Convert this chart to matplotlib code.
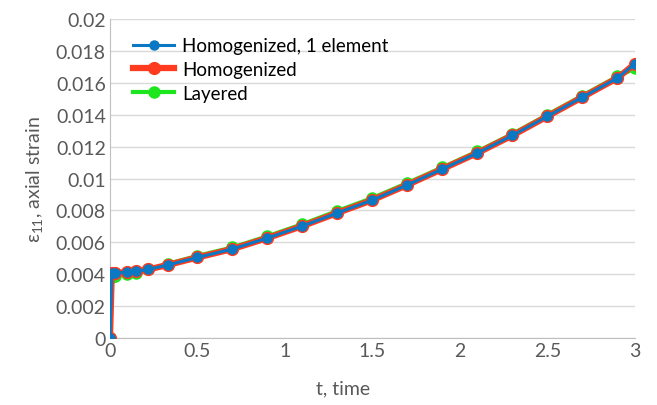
import matplotlib
matplotlib.use('Agg')
import matplotlib.pyplot as plt
from matplotlib.ticker import MultipleLocator, FuncFormatter

plt.rcParams['font.family'] = ['Lato', 'DejaVu Sans']
plt.rcParams['mathtext.fontset'] = 'custom'
plt.rcParams['mathtext.rm'] = 'Lato'
plt.rcParams['mathtext.it'] = 'Lato'

# data
t = [0, 0.01, 0.03, 0.1, 0.15, 0.22, 0.33, 0.5, 0.7, 0.9, 1.1, 1.3, 1.5,
     1.7, 1.9, 2.1, 2.3, 2.5, 2.7, 2.9, 3.0]
hom_1el = [0, 0.00405, 0.00408, 0.00412, 0.00418, 0.0043, 0.00458, 0.00505,
           0.00558, 0.00627, 0.00702, 0.00784, 0.00865, 0.0096, 0.0106,
           0.0116, 0.0127, 0.0139, 0.0151, 0.0163, 0.0172]
hom = [0, 0.00405, 0.00408, 0.00412, 0.00418, 0.0043, 0.00458, 0.00505,
       0.00558, 0.00627, 0.00702, 0.00784, 0.00865, 0.0096, 0.0106,
       0.0116, 0.0127, 0.0139, 0.0151, 0.0163, 0.0172]
layered = [0, 0.0038, 0.0039, 0.004, 0.0041, 0.0043, 0.00465, 0.00515,
           0.00568, 0.00638, 0.00714, 0.00797, 0.00878, 0.00972, 0.0107,
           0.0117, 0.0128, 0.0140, 0.0152, 0.0164, 0.0169]

fig = plt.figure(figsize=(6.57, 4.06), dpi=100)
ax = fig.add_axes([0.1674, 0.165, 0.7991, 0.7857])

ax.plot(t, layered, color='#1EE61E', lw=3, marker='o', ms=8, label='Layered', zorder=3)
ax.plot(t, hom, color='#FF3B1F', lw=4.5, marker='o', ms=8.5, label='Homogenized', zorder=4)
ax.plot(t, hom_1el, color='#0A78C2', lw=2.2, marker='o', ms=6.5, label='Homogenized, 1 element', zorder=5)

ax.set_xlim(0, 3)
ax.set_ylim(0, 0.02)
ax.xaxis.set_major_locator(MultipleLocator(0.5))
ax.yaxis.set_major_locator(MultipleLocator(0.002))
ax.xaxis.set_major_formatter(FuncFormatter(lambda v, p: f'{v:g}'))
ax.yaxis.set_major_formatter(FuncFormatter(lambda v, p: f'{v:g}'))

ax.grid(axis='y', color='#D9D9D9', lw=1)
ax.set_axisbelow(True)
for s in ['top', 'right']:
    ax.spines[s].set_visible(False)
for s in ['left', 'bottom']:
    ax.spines[s].set_color('#BFBFBF')
ax.tick_params(length=0, labelsize=14, labelcolor='#595959', pad=3)

ax.set_xlabel('t, time', fontsize=14, color='#595959')
ax.xaxis.set_label_coords(0.444, -0.13)
ax.set_ylabel('ε$_{11}$, axial strain', fontsize=14, color='#595959', labelpad=8)

h, l = ax.get_legend_handles_labels()
ax.legend(h[::-1], l[::-1], loc='upper left', bbox_to_anchor=(0.012, 0.995), frameon=False,
          fontsize=13.5, handlelength=2.2, handletextpad=0.4, labelspacing=0.35)

fig.savefig('out.png', dpi=100)
